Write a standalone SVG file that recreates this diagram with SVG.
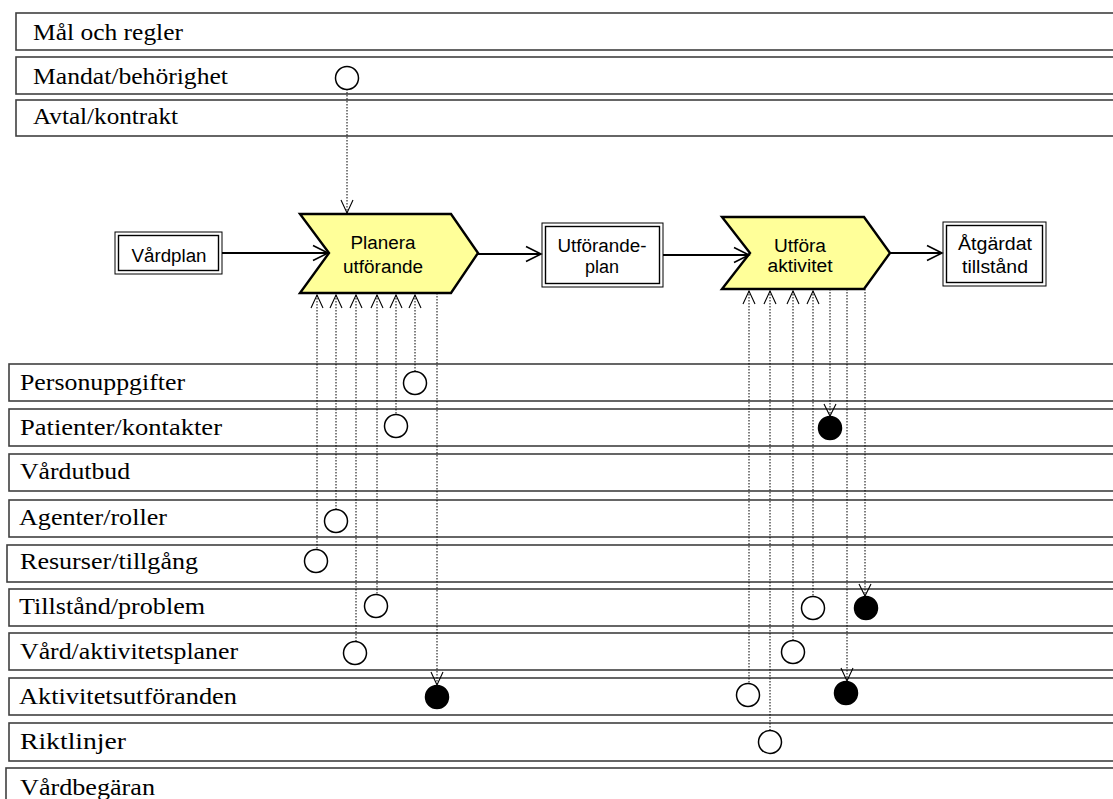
<svg xmlns="http://www.w3.org/2000/svg" width="1113" height="799" viewBox="0 0 1113 799">
  <style>
    .row { fill: #fff; stroke: #404040; stroke-width: 1.6; }
    .rowtxt { font-family: "Liberation Serif", "Times New Roman", serif; font-size: 23px; fill: #000; }
    .fn { fill: #ffff99; stroke: #000; stroke-width: 2.4; stroke-linejoin: miter; }
    .fntxt { font-family: "Liberation Sans", Arial, sans-serif; font-size: 18px; fill: #000; text-anchor: middle; }
    .outer { fill: #fff; stroke: #000; stroke-width: 1; }
    .inner { fill: none; stroke: #000; stroke-width: 1.4; }
    .flow { stroke: #000; stroke-width: 2; fill: none; }
    .head { stroke: #000; stroke-width: 1.6; fill: none; }
    .dot { stroke: #000; stroke-width: 1; stroke-dasharray: 1.5 1.5; fill: none; }
    .tip { stroke: #000; stroke-width: 1.1; fill: none; }
    .ring { fill: #fff; stroke: #000; stroke-width: 1.5; }
    .solid { fill: #000; stroke: #000; stroke-width: 1.5; }
  </style>

  <!-- information rows -->
  <g id="row-mal"><rect class="row" x="16" y="13" width="1110" height="37"/><text class="rowtxt" x="33" y="40" textLength="150" lengthAdjust="spacingAndGlyphs">Mål och regler</text></g>
  <g id="row-mandat"><rect class="row" x="16" y="57" width="1110" height="37"/><text class="rowtxt" x="33" y="84" textLength="195" lengthAdjust="spacingAndGlyphs">Mandat/behörighet</text></g>
  <g id="row-avtal"><rect class="row" x="16" y="100" width="1110" height="36"/><text class="rowtxt" x="33" y="124" textLength="145" lengthAdjust="spacingAndGlyphs">Avtal/kontrakt</text></g>

  <g id="row-personuppgifter"><rect class="row" x="9" y="364" width="1117" height="37"/><text class="rowtxt" x="20" y="390" textLength="165" lengthAdjust="spacingAndGlyphs">Personuppgifter</text></g>
  <g id="row-patienter"><rect class="row" x="9" y="409" width="1117" height="37"/><text class="rowtxt" x="20" y="435" textLength="202" lengthAdjust="spacingAndGlyphs">Patienter/kontakter</text></g>
  <g id="row-vardutbud"><rect class="row" x="9" y="454" width="1117" height="37"/><text class="rowtxt" x="20" y="479" textLength="110" lengthAdjust="spacingAndGlyphs">Vårdutbud</text></g>
  <g id="row-agenter"><rect class="row" x="9" y="500" width="1117" height="37"/><text class="rowtxt" x="19" y="525" textLength="148" lengthAdjust="spacingAndGlyphs">Agenter/roller</text></g>
  <g id="row-resurser"><rect class="row" x="7" y="545" width="1119" height="37"/><text class="rowtxt" x="20" y="569" textLength="178" lengthAdjust="spacingAndGlyphs">Resurser/tillgång</text></g>
  <g id="row-tillstand"><rect class="row" x="9" y="589" width="1117" height="37"/><text class="rowtxt" x="19" y="614" textLength="186" lengthAdjust="spacingAndGlyphs">Tillstånd/problem</text></g>
  <g id="row-vardplaner"><rect class="row" x="9" y="633" width="1117" height="37"/><text class="rowtxt" x="20" y="659" textLength="218" lengthAdjust="spacingAndGlyphs">Vård/aktivitetsplaner</text></g>
  <g id="row-utforanden"><rect class="row" x="9" y="678" width="1117" height="37"/><text class="rowtxt" x="19" y="704" textLength="218" lengthAdjust="spacingAndGlyphs">Aktivitetsutföranden</text></g>
  <g id="row-riktlinjer"><rect class="row" x="9" y="723" width="1117" height="38"/><text class="rowtxt" x="20" y="749" textLength="106" lengthAdjust="spacingAndGlyphs">Riktlinjer</text></g>
  <g id="row-vardbegaran"><rect class="row" x="6" y="768" width="1120" height="40"/><text class="rowtxt" x="20" y="795" textLength="135" lengthAdjust="spacingAndGlyphs">Vårdbegäran</text></g>

  <!-- process flow -->
  <g id="vardplan">
    <rect class="outer" x="115" y="232" width="107" height="42"/>
    <rect class="inner" x="118.5" y="235.5" width="100" height="35"/>
    <text class="fntxt" x="169" y="262" textLength="75" lengthAdjust="spacingAndGlyphs">Vårdplan</text>
  </g>
  <g id="planera">
    <polygon class="fn" points="300,214 451,214 478,253 451,293 300,293 329,253"/>
    <text class="fntxt" x="383" y="249" textLength="65" lengthAdjust="spacingAndGlyphs">Planera</text>
    <text class="fntxt" x="383" y="273" textLength="80" lengthAdjust="spacingAndGlyphs">utförande</text>
  </g>
  <g id="utforandeplan">
    <rect class="outer" x="542" y="223" width="121" height="64"/>
    <rect class="inner" x="545.5" y="226.5" width="114" height="57"/>
    <text class="fntxt" x="602" y="252" textLength="89" lengthAdjust="spacingAndGlyphs">Utförande-</text>
    <text class="fntxt" x="602" y="273">plan</text>
  </g>
  <g id="utfora">
    <polygon class="fn" points="722,217 864,217 890,253 864,289 722,289 750,253"/>
    <text class="fntxt" x="800" y="252" textLength="52" lengthAdjust="spacingAndGlyphs">Utföra</text>
    <text class="fntxt" x="800" y="272" textLength="65" lengthAdjust="spacingAndGlyphs">aktivitet</text>
  </g>
  <g id="atgardat">
    <rect class="outer" x="943" y="222" width="103" height="64"/>
    <rect class="inner" x="946.5" y="225.5" width="96" height="57"/>
    <text class="fntxt" x="995" y="250" textLength="74" lengthAdjust="spacingAndGlyphs">Åtgärdat</text>
    <text class="fntxt" x="995" y="273" textLength="66" lengthAdjust="spacingAndGlyphs">tillstånd</text>
  </g>

  <!-- connectors -->
  <g id="connectors">
    <!-- main flow -->
    <path class="flow" d="M222,253 H328"/>
    <path class="head" d="M313,245.5 L328,253 L313,260.5"/>
    <path class="flow" d="M478,254 H541"/>
    <path class="head" d="M526,246.5 L541,254 L526,261.5"/>
    <path class="flow" d="M663,255 H749"/>
    <path class="head" d="M734,247.5 L749,255 L734,262.5"/>
    <path class="flow" d="M890,253 H942"/>
    <path class="head" d="M927,245.5 L942,253 L927,260.5"/>

    <!-- mandate to planning -->
    <path class="dot" d="M347,89 V213"/>
    <path class="tip" d="M341,200 L347,213 L353,200"/>

    <!-- planning inputs -->
    <path class="dot" d="M317,295 V549"/>
    <path class="dot" d="M336,295 V509"/>
    <path class="dot" d="M356,295 V641"/>
    <path class="dot" d="M377,295 V594"/>
    <path class="dot" d="M396,295 V414"/>
    <path class="dot" d="M415,295 V371"/>
    <path class="tip" d="M311,308 L317,295 L323,308"/>
    <path class="tip" d="M330,308 L336,295 L342,308"/>
    <path class="tip" d="M350,308 L356,295 L362,308"/>
    <path class="tip" d="M371,308 L377,295 L383,308"/>
    <path class="tip" d="M390,308 L396,295 L402,308"/>
    <path class="tip" d="M409,308 L415,295 L421,308"/>
    <!-- planning output -->
    <path class="dot" d="M437,293 V685"/>
    <path class="tip" d="M431,672 L437,685 L443,672"/>

    <!-- execution inputs -->
    <path class="dot" d="M749,291 V683"/>
    <path class="dot" d="M770,291 V730"/>
    <path class="dot" d="M793,291 V640"/>
    <path class="dot" d="M813,291 V596"/>
    <path class="tip" d="M743,304 L749,291 L755,304"/>
    <path class="tip" d="M764,304 L770,291 L776,304"/>
    <path class="tip" d="M787,304 L793,291 L799,304"/>
    <path class="tip" d="M807,304 L813,291 L819,304"/>
    <!-- execution outputs -->
    <path class="dot" d="M830,289 V416"/>
    <path class="tip" d="M824,404 L830,416 L836,404"/>
    <path class="dot" d="M847,289 V681"/>
    <path class="tip" d="M841,668 L847,681 L853,668"/>
    <path class="dot" d="M865,289 V596"/>
    <path class="tip" d="M859,584 L865,596 L871,584"/>
  </g>

  <!-- data access points -->
  <g id="points">
    <circle class="ring" cx="347" cy="78" r="11.5"/>
    <circle class="ring" cx="415" cy="383" r="11.5"/>
    <circle class="ring" cx="396" cy="426" r="11.5"/>
    <circle class="ring" cx="336" cy="521" r="11.5"/>
    <circle class="ring" cx="316" cy="561" r="11.5"/>
    <circle class="ring" cx="376" cy="606" r="11.5"/>
    <circle class="ring" cx="355" cy="653" r="11.5"/>
    <circle class="solid" cx="437" cy="697" r="11.5"/>

    <circle class="solid" cx="830" cy="428" r="11.5"/>
    <circle class="ring" cx="813" cy="608" r="11.5"/>
    <circle class="solid" cx="866" cy="608" r="11.5"/>
    <circle class="ring" cx="793" cy="652" r="11.5"/>
    <circle class="ring" cx="748" cy="695" r="11.5"/>
    <circle class="solid" cx="846" cy="693" r="11.5"/>
    <circle class="ring" cx="770" cy="742" r="11.5"/>
  </g>
</svg>
